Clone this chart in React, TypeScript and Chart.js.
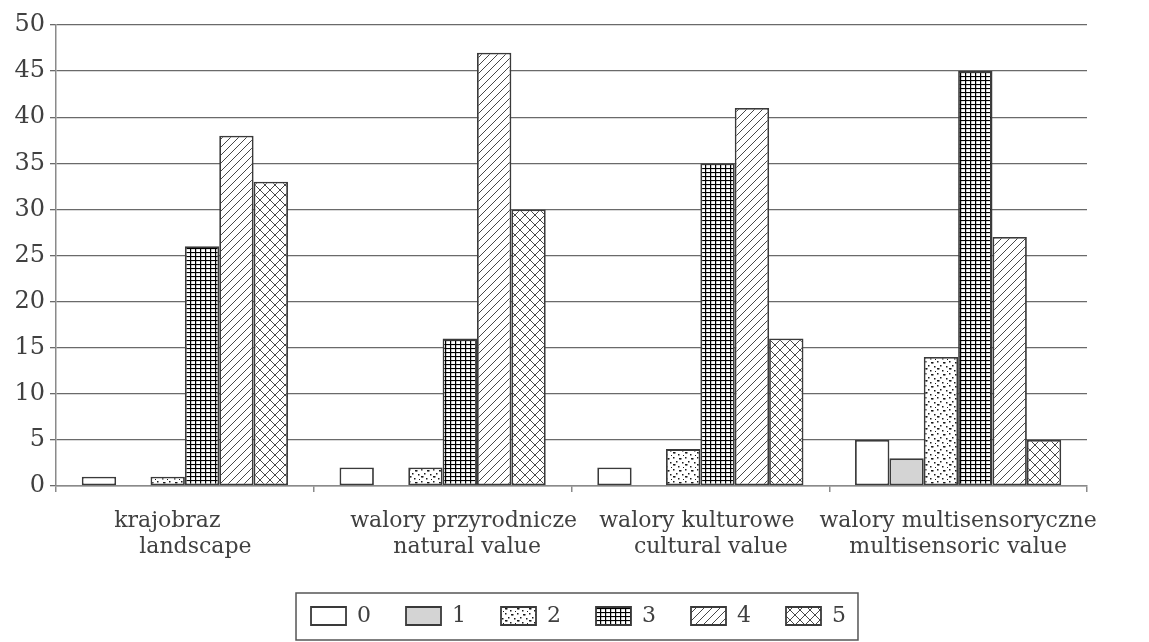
import React, { useEffect, useRef } from 'react';
import { Chart, registerables } from 'chart.js';

Chart.register(...registerables);

const categories: string[][] = [
  ['krajobraz     ', '   landscape'],
  ['      walory przyrodnicze', '       natural value'],
  ['walory kulturowe ', '   cultural value'],
  ['walory multisensoryczne', 'multisensoric value'],
];
const seriesNames: string[] = ['0', '1', '2', '3', '4', '5'];
const values0: number[] = [1, 2, 2, 5];
const values1: number[] = [0, 0, 0, 3];
const values2: number[] = [1, 2, 4, 14];
const values3: number[] = [26, 16, 35, 45];
const values4: number[] = [38, 47, 41, 27];
const values5: number[] = [33, 30, 16, 5];
const yMin = 0;
const yMax = 50;
const yStep = 5;

const FONT = "'DejaVu Serif', serif";
const TEXT = '#404040';

function tile(w: number, h: number, draw: (ctx: CanvasRenderingContext2D) => void): CanvasPattern | string {
  const c = document.createElement('canvas');
  c.width = w;
  c.height = h;
  const ctx = c.getContext('2d');
  if (!ctx) return '#ffffff';
  ctx.fillStyle = '#ffffff';
  ctx.fillRect(0, 0, w, h);
  draw(ctx);
  return ctx.createPattern(c, 'repeat') || '#ffffff';
}

function makeFills(): (CanvasPattern | string)[] {
  const white = '#ffffff';
  const gray = '#d4d4d4';
  const dots = tile(12, 12, (ctx) => {
    ctx.fillStyle = '#1a1a1a';
    const pts = [
      [1, 1], [7, 2], [8, 2], [4, 5], [10, 6], [1, 8], [2, 8], [6, 10], [11, 11],
    ];
    pts.forEach(([x, y]) => ctx.fillRect(x, y, 1.5, 1.5));
  });
  const grid = tile(5, 4, (ctx) => {
    ctx.fillStyle = '#000000';
    ctx.fillRect(0, 0, 5, 1.1);
    ctx.fillRect(0, 0, 1.2, 4);
  });
  const diag = tile(8, 8, (ctx) => {
    ctx.strokeStyle = '#333333';
    ctx.lineWidth = 0.9;
    ctx.beginPath();
    ctx.moveTo(-1, 9);
    ctx.lineTo(9, -1);
    ctx.moveTo(-1, 1);
    ctx.lineTo(1, -1);
    ctx.moveTo(7, 9);
    ctx.lineTo(9, 7);
    ctx.stroke();
  });
  const cross = tile(10, 10, (ctx) => {
    ctx.strokeStyle = '#333333';
    ctx.lineWidth = 0.9;
    ctx.beginPath();
    ctx.moveTo(-1, 11);
    ctx.lineTo(11, -1);
    ctx.moveTo(-1, -1);
    ctx.lineTo(11, 11);
    ctx.stroke();
  });
  return [white, gray, dots, grid, diag, cross];
}

const legendFrame = {
  id: 'legendFrame',
  afterLayout(chart: any) {
    const lg = chart.legend;
    if (!lg) return;
    lg.right = chart.width;
    lg.width = lg.right - lg.left;
  },
  afterDraw(chart: any) {
    const lg = chart.legend;
    if (!lg || !lg.legendHitBoxes || !lg.legendHitBoxes.length) return;
    const hb = lg.legendHitBoxes;
    const first = hb[0];
    const last = hb[hb.length - 1];
    const left = first.left - 15;
    const right = last.left + last.width + 12;
    const top = first.top - 12;
    const bottom = first.top + first.height + 13;
    const ctx = chart.ctx;
    ctx.save();
    ctx.strokeStyle = '#555555';
    ctx.lineWidth = 1.5;
    ctx.strokeRect(left, top, right - left, bottom - top);
    ctx.restore();
  },
};

export default function App() {
  const ref = useRef<HTMLCanvasElement | null>(null);

  useEffect(() => {
    document.body.style.margin = '0';
    const canvas = ref.current;
    if (!canvas) return;
    const fills = makeFills();
    const seriesValues = [values0, values1, values2, values3, values4, values5];
    const chart = new Chart(canvas, {
      type: 'bar',
      data: {
        labels: categories,
        datasets: seriesNames.map((name, i) => ({
          label: name,
          data: seriesValues[i],
          backgroundColor: fills[i] as any,
          borderColor: '#3a3a3a',
          borderWidth: 1.8,
          borderSkipped: false,
          categoryPercentage: 0.8,
          barPercentage: 1.0,
        })),
      },
      options: {
        responsive: false,
        animation: false,
        devicePixelRatio: 1,
        layout: { padding: { top: 25, left: 8, right: 62, bottom: 5 } },
        plugins: {
          tooltip: { enabled: false },
          legend: {
            display: true,
            position: 'bottom',
            labels: {
              boxWidth: 35,
              boxHeight: 18,
              padding: 35,
              color: TEXT,
              font: { family: FONT, size: 22 },
            },
          },
        },
        scales: {
          x: {
            offset: true,
            grid: {
              offset: true,
              drawOnChartArea: false,
              drawTicks: true,
              tickLength: 6,
              color: '#8a8a8a',
              lineWidth: 1.5,
            },
            border: { display: true, color: '#8a8a8a', width: 1.5 },
            ticks: {
              color: TEXT,
              font: { family: FONT, size: 22, lineHeight: 1.2 },
              padding: 16,
              maxRotation: 0,
              minRotation: 0,
              autoSkip: false,
            },
            afterFit: (scale: any) => {
              scale.height = 84;
            },
          },
          y: {
            min: yMin,
            max: yMax,
            grid: {
              color: '#6a6a6a',
              lineWidth: 1.3,
              drawTicks: true,
              tickLength: 6,
            },
            border: { display: true, color: '#8a8a8a', width: 1.5 },
            ticks: {
              stepSize: yStep,
              color: TEXT,
              font: { family: FONT, size: 24 },
              padding: 5,
            },
            afterFit: (scale: any) => {
              scale.width = 48;
            },
          },
        },
      },
      plugins: [legendFrame],
    });
    return () => chart.destroy();
  }, []);

  return (
    <div style={{ width: 1149, height: 642, background: '#ffffff' }}>
      <canvas ref={ref} width={1149} height={642} style={{ display: 'block' }} />
    </div>
  );
}
